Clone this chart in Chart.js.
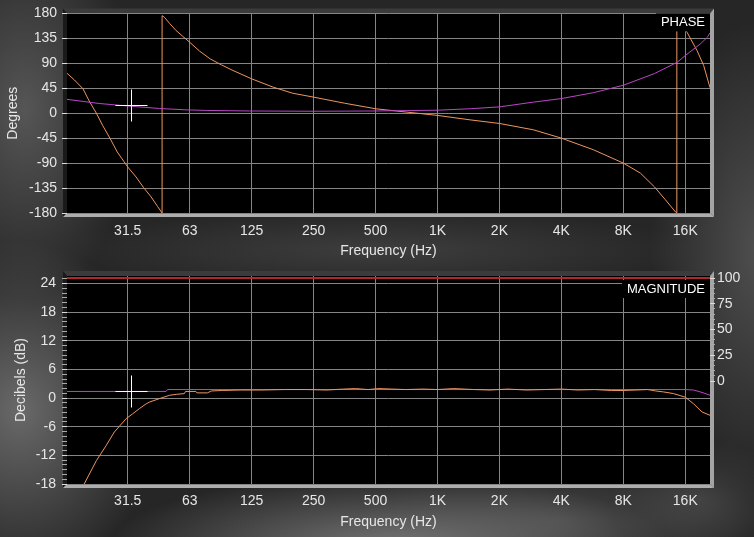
<!DOCTYPE html>
<html>
<head>
<meta charset="utf-8">
<script src="https://cdn.jsdelivr.net/npm/chart.js@4.4.1/dist/chart.umd.min.js"></script>
<style>
  html, body { margin: 0; padding: 0; }
  body {
    width: 754px; height: 537px; overflow: hidden; position: relative;
    background:
      radial-gradient(ellipse 110px 190px at 25px 110px, rgba(125,125,125,.55), transparent),
      radial-gradient(ellipse 140px 170px at 20px 410px, rgba(150,150,150,.6), transparent),
      radial-gradient(ellipse 280px 70px at 390px 545px, rgba(165,165,165,.6), transparent),
      radial-gradient(ellipse 110px 230px at 760px 250px, rgba(120,120,120,.5), transparent),
      radial-gradient(ellipse 320px 40px at 380px 250px, rgba(90,90,90,.45), transparent),
      radial-gradient(ellipse 200px 60px at 560px 520px, rgba(110,110,110,.4), transparent),
      radial-gradient(ellipse 90px 60px at 700px 500px, rgba(100,100,100,.4), transparent),
      #262626;
  }
  canvas { position: absolute; left: 0; }
  #fase { top: 0; }
  #magnitud { top: 258px; }
</style>
</head>
<body>
<canvas id="fase" width="754" height="260"></canvas>
<canvas id="magnitud" width="754" height="279"></canvas>
<script>
// rejilla de frecuencias (octavas) y sus etiquetas
const bandas = [31.25, 62.5, 125, 250, 500, 1000, 2000, 4000, 8000, 16000];
const etiquetasBandas = ["31.5", "63", "125", "250", "500", "1K", "2K", "4K", "8K", "16K"];
const frecMin = 15.84;
const frecMax = 21100;

const ticksFase = [-180, -135, -90, -45, 0, 45, 90, 135, 180];
const ticksDb = [-18, -12, -6, 0, 6, 12, 18, 24];
const ticksCoherencia = [0, 25, 50, 75, 100];

// fase medida (naranja)
const faseFrec = [15.84, 17.2, 18.95, 20.3, 22.0, 23.6, 25.6, 27.8, 31.25, 34.3, 37.3, 40.6, 43.6, 45.9, 45.9,
  47.1, 49.9, 53.7, 57.7, 62.5, 69.8, 78.6, 89.3, 101.5, 125, 159, 198, 250, 354, 500, 707, 1000, 1440, 2000,
  2930, 4000, 5730, 8000, 9680, 11340, 12800, 14340, 14560, 14560, 16320, 18250, 19660, 21100];
const faseGrados = [72, 60, 44, 22, 0, -22, -45, -70, -97, -115, -134, -151, -168, -180, 176,
  173, 162, 149, 139, 128, 112, 98, 87, 77, 62, 47, 36, 29, 18, 8, 2, -4, -12, -18.5,
  -30, -45, -66, -90, -108, -133, -156, -178, -180, 180, 146, 113, 86, 46];

// fase de referencia (morado)
const faseRefFrec = [15.84, 22.7, 31.25, 44.6, 60, 75.2, 122, 250, 500, 1000, 1440, 2000, 2930, 4000, 5730,
  8000, 11340, 14640, 16000, 18950, 20500, 21100];
const faseRefGrados = [25, 17.5, 13, 8.5, 6, 5, 4, 3.5, 4, 5.4, 8, 11.4, 20, 26.4, 37,
  50.4, 71.5, 92, 104, 125, 137, 145];

// magnitud medida (naranja)
const magFrec = [15.84, 19.2, 22.0, 24.5, 26.9, 30.7, 33, 35.6, 38.4, 40.0, 44.6, 49.9, 54, 58.9, 59.6, 67.0,
  67.8, 76.2, 79.6, 90, 110, 140, 180, 230, 290, 350, 400, 460, 520, 600, 700, 850, 1000, 1200, 1500, 1800,
  2200, 2700, 3300, 4000, 4800, 5800, 7000, 8000, 9200, 10500, 11500, 12550, 14040, 16000, 17560, 19300, 21100];
const magDb = [-25, -18, -13.1, -10, -7.1, -4.3, -3.3, -2.2, -1.2, -0.8, -0.1, 0.6, 0.8, 0.95, 1.4, 1.4,
  1.1, 1.1, 1.5, 1.6, 1.7, 1.7, 1.8, 1.8, 1.7, 1.9, 2.0, 1.8, 2.0, 1.9, 1.8, 1.9, 1.8, 2.0, 1.8, 1.7,
  1.9, 1.7, 1.8, 1.9, 1.7, 1.8, 1.6, 1.6, 1.7, 1.8, 1.5, 1.3, 0.95, 0.2, -1.2, -2.9, -3.6];

// magnitud de referencia (morado)
const magRefFrec = [15.84, 48.0, 48.8, 1000, 8000, 16000, 17560, 19300, 21100];
const magRefDb = [1.4, 1.4, 1.8, 1.8, 1.8, 1.8, 1.7, 1.2, 0.6];

// coherencia (eje derecho)
const coherenciaFrec = [15.84, 21100];
const coherencia = [100, 100];

// cursor
const cursorFrec = 32.5;
const cursorFase = 14;
const cursorDb = 1.5;

const colorNaranja = "#ee9560";
const colorMorado = "#b847c4";
const colorRojo = "#b3262a";
const colorRejilla = "#858585";
const colorTexto = "#e6e6e6";

Chart.defaults.font.family = "'Liberation Sans', Arial, sans-serif";
Chart.defaults.font.size = 14;
Chart.defaults.color = colorTexto;

function puntos(xs, ys){
    return xs.map((x, i) => ({x: x, y: ys[i]}));
}

function poligono(ctx, color, pts){
    ctx.fillStyle = color;
    ctx.beginPath();
    ctx.moveTo(pts[0][0], pts[0][1]);
    for (let i = 1; i < pts.length; i++){
        ctx.lineTo(pts[i][0], pts[i][1]);
    }
    ctx.closePath();
    ctx.fill();
}

// fondo negro, bisel, cursor y rotulo de la esquina
const marco = {
    id: "marco",
    beforeDraw(chart, args, opts){
        const {ctx, chartArea: {left, top, right, bottom}} = chart;
        ctx.save();
        ctx.fillStyle = "#000";
        ctx.fillRect(left, top, right - left, bottom - top);
        poligono(ctx, "#3b3b3b", [[left - 4, top - 5], [right + 4, top - 5], [right, top], [left, top]]);
        poligono(ctx, "#1a1a1a", [[left - 4, top - 5], [left, top], [left, bottom], [left - 4, bottom + 4]]);
        poligono(ctx, "#a4a4a4", [[right, top], [right + 4, top - 5], [right + 4, bottom + 4], [right, bottom]]);
        poligono(ctx, "#adadad", [[left - 4, bottom + 4], [right + 4, bottom + 4], [right, bottom], [left, bottom]]);
        ctx.restore();
    },
    afterDatasetsDraw(chart, args, opts){
        const {ctx, chartArea: {top, right}} = chart;
        ctx.save();
        const cx = Math.round(chart.scales.x.getPixelForValue(opts.cursorX)) + 0.5;
        const cy = Math.round(chart.scales.y.getPixelForValue(opts.cursorY)) + 0.5;
        ctx.strokeStyle = "#ffffff";
        ctx.lineWidth = 1;
        ctx.beginPath();
        ctx.moveTo(cx - 16, cy); ctx.lineTo(cx + 16, cy);
        ctx.moveTo(cx, cy - 16); ctx.lineTo(cx, cy + 16);
        ctx.stroke();

        ctx.font = "13px 'Liberation Sans', Arial, sans-serif";
        const ancho = ctx.measureText(opts.texto).width;
        ctx.fillStyle = "#000";
        ctx.fillRect(right - ancho - 10, top + opts.margen, ancho + 10, 18);
        ctx.fillStyle = "#ffffff";
        ctx.textAlign = "right";
        ctx.textBaseline = "middle";
        ctx.fillText(opts.texto, right - 5, top + opts.margen + 9.5);
        ctx.restore();
    }
};

function ejeFrecuencia(relleno, alto, rellenoTitulo){
    return {
        type: "logarithmic",
        min: frecMin,
        max: frecMax,
        afterBuildTicks: (eje) => { eje.ticks = bandas.map(v => ({value: v})); },
        afterFit: (eje) => { eje.height = alto; },
        grid: {color: colorRejilla, drawTicks: false},
        border: {display: false},
        ticks: {
            padding: relleno, autoSkip: false, maxRotation: 0,
            callback: (v, i) => etiquetasBandas[i]
        },
        title: {display: true, text: "Frequency (Hz)", padding: {top: 0, bottom: rellenoTitulo}}
    };
}

const graficaFase = new Chart("fase", {
    type: "line",
    data: {
        datasets: [
            {data: puntos(faseRefFrec, faseRefGrados), borderColor: colorMorado, borderWidth: 1},
            {data: puntos(faseFrec, faseGrados), borderColor: colorNaranja, borderWidth: 1}
        ]
    },
    plugins: [marco],
    options: {
        responsive: false,
        animation: false,
        events: [],
        layout: {padding: {left: 0, top: 13, right: 44, bottom: 0}},
        elements: {point: {radius: 0}, line: {tension: 0}},
        scales: {
            x: ejeFrecuencia(10, 47, 0),
            y: {
                min: -180,
                max: 180,
                afterBuildTicks: (eje) => { eje.ticks = ticksFase.map(v => ({value: v})); },
                afterFit: (eje) => { eje.width = 67; },
                grid: {color: colorRejilla, tickColor: "#dddddd", tickLength: 5},
                border: {display: false},
                ticks: {padding: 5, autoSkip: false},
                title: {display: true, text: "Degrees", padding: {top: 5, bottom: 0}}
            }
        },
        plugins: {
            legend: {display: false},
            tooltip: {enabled: false},
            marco: {texto: "PHASE", margen: 0, cursorX: cursorFrec, cursorY: cursorFase}
        }
    }
});

// marcas menores: cada 1 dB a la izquierda, cada 5 a la derecha
const marcasDb = [];
for (let v = ticksDb[0]; v <= 25; v++){ marcasDb.push(v); }
const marcasCoherencia = [];
for (let v = 0; v <= 100; v += 5){ marcasCoherencia.push(v); }

const graficaMagnitud = new Chart("magnitud", {
    type: "line",
    data: {
        datasets: [
            {data: puntos(coherenciaFrec, coherencia), borderColor: colorRojo, borderWidth: 2, yAxisID: "y1"},
            {data: puntos(magFrec, magDb), borderColor: colorNaranja, borderWidth: 1, yAxisID: "y"},
            {data: puntos(magRefFrec, magRefDb), borderColor: colorMorado, borderWidth: 1, yAxisID: "y"}
        ]
    },
    plugins: [marco],
    options: {
        responsive: false,
        animation: false,
        events: [],
        layout: {padding: {left: 0, top: 18, right: 0, bottom: 0}},
        elements: {point: {radius: 0}, line: {tension: 0}},
        scales: {
            x: ejeFrecuencia(9, 53, 6),
            y: {
                position: "left",
                min: -18,
                max: 25.6,
                afterBuildTicks: (eje) => { eje.ticks = marcasDb.map(v => ({value: v})); },
                afterFit: (eje) => { eje.width = 67; },
                grid: {
                    color: (c) => ticksDb.includes(c.tick.value) ? colorRejilla : "rgba(0,0,0,0)",
                    tickColor: (c) => ticksDb.includes(c.tick.value) ? "#dddddd" : "#aaaaaa",
                    tickLength: 5
                },
                border: {display: false},
                ticks: {padding: 6, autoSkip: false, callback: (v) => ticksDb.includes(v) ? v : ""},
                title: {display: true, text: "Decibels (dB)", padding: {top: 13, bottom: 0}}
            },
            y1: {
                position: "right",
                min: -100,
                max: 102,
                afterBuildTicks: (eje) => { eje.ticks = marcasCoherencia.map(v => ({value: v})); },
                afterFit: (eje) => { eje.width = 44; },
                grid: {
                    drawOnChartArea: false,
                    tickColor: (c) => ticksCoherencia.includes(c.tick.value) ? "#dddddd" : "#aaaaaa",
                    tickLength: 5
                },
                border: {display: false},
                ticks: {padding: 2, autoSkip: false, callback: (v) => ticksCoherencia.includes(v) ? v : ""}
            }
        },
        plugins: {
            legend: {display: false},
            tooltip: {enabled: false},
            marco: {texto: "MAGNITUDE", margen: 4, cursorX: cursorFrec, cursorY: cursorDb}
        }
    }
});
</script>
</body>
</html>
